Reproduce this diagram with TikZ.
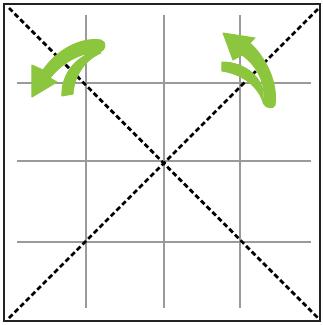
\documentclass[tikz,border=0pt]{standalone}
\begin{document}
\begin{tikzpicture}[x=1pt,y=-1pt,
  gridline/.style={draw=gridgray,line width=2.8pt},
  diag/.style={draw=black,line width=2.8pt,dash pattern=on 5pt off 3pt},
  frameline/.style={draw=framegray,line width=2.8pt},
  greenarrow/.style={fill=arrowgreen,draw=arrowgreen,line width=1pt,line join=round}]
\definecolor{gridgray}{HTML}{9A9A9A}
\definecolor{framegray}{HTML}{222222}
\definecolor{arrowgreen}{HTML}{8CC63F}
\useasboundingbox (0,0) rectangle (323,325);
% grid
\foreach \x in {86,164,240} \draw[gridline] (\x,15) -- (\x,308);
\foreach \y in {83,161,242} \draw[gridline] (17,\y) -- (311,\y);
% diagonals
\coordinate (tl) at (9,8);
\coordinate (br) at (318,318);
\coordinate (tr) at (318,9);
\coordinate (bl) at (9,318);
\draw[diag] (tl) -- (br);
\draw[diag] (tr) -- (bl);
% frame
\draw[frameline] (4,4) rectangle (320,321);
% left arrow
\filldraw[greenarrow] (62,96) .. controls (61,78) and (72,58) .. (96,51)
  -- (101,53) .. controls (86,59) and (74,75) .. (73,94) -- cycle;
\filldraw[greenarrow] (101,40) .. controls (80,37) and (57,50) .. (43,70)
  -- (32,65) -- (32,97) -- (57,82) -- (50,78)
  .. controls (62,63) and (80,52) .. (100,52)
  .. controls (106,50) and (107,42) .. (101,40) -- cycle;
% right arrow
\filldraw[greenarrow] (222,62) .. controls (240,62) and (258,72) .. (263,90)
  -- (263,102) .. controls (258,86) and (242,74) .. (222,71) -- cycle;
\filldraw[greenarrow] (223,33) -- (255,38) -- (250,43)
  .. controls (266,58) and (278,82) .. (275,105)
  .. controls (274,109) and (266,109) .. (263,103)
  .. controls (267,86) and (258,66) .. (242,55)
  -- (233,60) -- cycle;
\end{tikzpicture}
\end{document}
